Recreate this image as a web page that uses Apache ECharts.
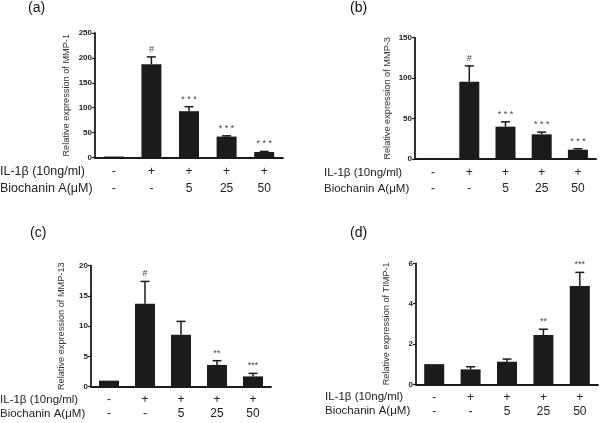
<!DOCTYPE html>
<html>
<head>
<meta charset="utf-8">
<script src="https://cdn.jsdelivr.net/npm/echarts@6/dist/echarts.min.js"></script>
<style>
html,body{margin:0;padding:0;background:#fff;}
#c{width:600px;height:423px;}
</style>
</head>
<body>
<div id="c"></div>
<script>
// Treatment rows (shared categories)
const il1b = ['-', '+', '+', '+', '+'];
const biochanin = ['-', '-', '5', '25', '50'];
const rowLabel1 = 'IL-1\u03b2 (10ng/ml)';
const rowLabel2 = 'Biochanin A(\u03bcM)';

// Panel (a) MMP-1
const mmp1 = [2, 187, 93, 42, 11];
const mmp1Err = [0, 15, 9, 1.5, 1.2];
const mmp1Sig = ['', '#', '* * *', '* * *', '* * *'];
const mmp1Ticks = [0, 50, 100, 150, 200, 250];

// Panel (b) MMP-3
const mmp3 = [1, 95.6, 40, 30.5, 11.5];
const mmp3Err = [0, 19.5, 6, 2.7, 1.2];
const mmp3Sig = ['', '#', '* * *', '* * *', '* * *'];
const mmp3Ticks = [0, 50, 100, 150];

// Panel (c) MMP-13
const mmp13 = [1, 13.7, 8.6, 3.6, 1.7];
const mmp13Err = [0, 3.7, 2.2, 0.7, 0.5];
const mmp13Sig = ['', '#', '', '**', '***'];
const mmp13Ticks = [0, 5, 10, 15, 20];

// Panel (d) TIMP-1
const timp1 = [1, 0.74, 1.12, 2.44, 4.87];
const timp1Err = [0, 0.13, 0.13, 0.29, 0.68];
const timp1Sig = ['', '', '', '**', '***'];
const timp1Ticks = [0, 2, 4, 6];

const FONT = '"Liberation Sans", Arial, sans-serif';
const INK = '#1b1b1b';

const panels = [
  {letter:'(a)', name:'Relative expression of MMP-1', vals:mmp1, err:mmp1Err, sig:mmp1Sig, ticks:mmp1Ticks,
   grid:{left:95, top:33, width:188, height:124.5}, lh:17, rowX:0, rowFont:12.5, letterPos:[28,1], nameGap:24},
  {letter:'(b)', name:'Relative expression of MMP-3', vals:mmp3, err:mmp3Err, sig:mmp3Sig, ticks:mmp3Ticks,
   grid:{left:415, top:37.7, width:181, height:121.3}, lh:16, rowX:324, rowFont:11.5, letterPos:[350,1], nameGap:23},
  {letter:'(c)', name:'Relative expression of MMP-13', vals:mmp13, err:mmp13Err, sig:mmp13Sig, ticks:mmp13Ticks,
   grid:{left:91, top:265.7, width:180, height:121}, lh:14, rowX:0, rowFont:11.5, letterPos:[30,226], nameGap:25},
  {letter:'(d)', name:'Relative expression of TIMP-1', vals:timp1, err:timp1Err, sig:timp1Sig, ticks:timp1Ticks,
   grid:{left:416, top:263.3, width:182, height:121}, lh:14, rowX:325, rowFont:11.5, letterPos:[350,226], nameGap:25}
];

const cats = il1b.map((v, i) => v + '|' + biochanin[i]);

const option = {
  animation: false,
  backgroundColor: '#fff',
  textStyle: {fontFamily: FONT},
  grid: [], xAxis: [], yAxis: [], series: [], graphic: []
};

panels.forEach((p, k) => {
  option.grid.push(Object.assign({containLabel:false}, p.grid));
  const ticks = p.ticks;
  option.xAxis.push({
    type:'category', gridIndex:k, data:cats,
    axisLine:{lineStyle:{color:INK, width:1.8}},
    axisTick:{alignWithLabel:true, length:3, lineStyle:{color:INK, width:1.2}},
    axisLabel:{
      margin:6, fontSize:12, color:'#222', fontFamily:FONT, lineHeight:p.lh,
      formatter:(v, i) => il1b[i] + '\n' + biochanin[i]
    },
    splitLine:{show:false}
  });
  option.yAxis.push({
    type:'value', gridIndex:k, min:ticks[0], max:ticks[ticks.length-1],
    interval:ticks[1]-ticks[0],
    name:p.name, nameLocation:'middle', nameGap:p.nameGap, nameRotate:90,
    nameTextStyle:{fontSize:9.2, color:'#333', fontFamily:FONT},
    axisLine:{show:true, lineStyle:{color:INK, width:1.8}},
    axisTick:{show:true, length:3, lineStyle:{color:INK, width:1.2}},
    axisLabel:{fontSize:8, fontWeight:'bold', color:'#222', margin:3, fontFamily:FONT},
    splitLine:{show:false}
  });
  option.series.push({
    type:'bar', xAxisIndex:k, yAxisIndex:k, data:p.vals, barWidth:20,
    itemStyle:{color:INK}, z:3
  });
  const errData = p.vals.map((v, i) => [i, v, p.err[i]]);
  const sig = p.sig;
  option.series.push({
    type:'custom', xAxisIndex:k, yAxisIndex:k, data:errData, z:2,
    renderItem:(params, api) => {
      const x = api.value(0), y = api.value(1), e = api.value(2);
      const p0 = api.coord([x, y]);
      const p1 = api.coord([x, y + e]);
      const children = [];
      if (e > 0) {
        children.push({type:'line', shape:{x1:p0[0], y1:p0[1], x2:p1[0], y2:p1[1]},
          style:{stroke:INK, lineWidth:1.5}});
        children.push({type:'line', shape:{x1:p1[0]-4.5, y1:p1[1], x2:p1[0]+4.5, y2:p1[1]},
          style:{stroke:INK, lineWidth:1.5}});
      }
      const s = sig[params.dataIndex];
      if (s) {
        children.push({type:'text', x:p1[0], y:p1[1]-3,
          style:{text:s, fontSize:9, fill:'#444', align:'center', verticalAlign:'bottom', fontFamily:FONT}});
      }
      return {type:'group', children};
    }
  });
  // panel letter
  option.graphic.push({type:'text', left:p.letterPos[0], top:p.letterPos[1],
    style:{text:p.letter, fontSize:14, fill:'#111', fontFamily:FONT}});
});

const chart = echarts.init(document.getElementById('c'), null, {renderer:'canvas'});
chart.setOption(option);

// Row labels aligned with the category label rows of each panel
panels.forEach((p, k) => {
  const axisY = p.grid.top + p.grid.height;
  const y1 = axisY + 6 + p.lh / 2;
  const y2 = y1 + p.lh;
  option.graphic.push({type:'text', x:p.rowX, y:y1,
    style:{text:rowLabel1, fontSize:p.rowFont, fill:'#222', fontFamily:FONT, verticalAlign:'middle'}});
  option.graphic.push({type:'text', x:p.rowX, y:y2,
    style:{text:rowLabel2, fontSize:p.rowFont, fill:'#222', fontFamily:FONT, verticalAlign:'middle'}});
});
chart.setOption({graphic: option.graphic});
</script>
</body>
</html>
